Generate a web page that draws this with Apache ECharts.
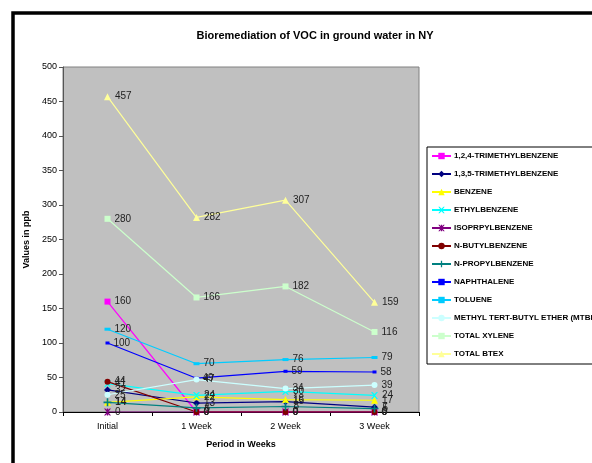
<!DOCTYPE html>
<html><head><meta charset="utf-8">
<script src="https://cdn.jsdelivr.net/npm/echarts@6/dist/echarts.min.js"></script>
<style>html,body{margin:0;padding:0;background:#fff}#c{width:592px;height:463px}</style>
</head><body><div id="c"></div>
<script>
const categories = ['Initial', '1 Week', '2 Week', '3 Week'];
const yTicks = [0, 50, 100, 150, 200, 250, 300, 350, 400, 450, 500];
const tmb124 = [160, 0, 0, 0];
const tmb135 = [32, 13, 15, 7];
const benzene = [14, 22, 18, 17];
const ethylbenzene = [41, 24, 30, 24];
const isopropylbenzene = [0, 0, 0, 0];
const nButylbenzene = [44, 0, 0, 0];
const nPropylbenzene = [14, 6, 8, 5];
const naphthalene = [100, 49, 59, 58];
const toluene = [120, 70, 76, 79];
const mtbe = [25, 47, 34, 39];
const totalXylene = [280, 166, 182, 116];
const totalBtex = [457, 282, 307, 159];

const defs = [
  ['1,2,4-TRIMETHYLBENZENE', tmb124, '#FF00FF', 'rect', 6],
  ['1,3,5-TRIMETHYLBENZENE', tmb135, '#000080', 'diamond', 7],
  ['BENZENE', benzene, '#FFFF00', 'triangle', 7],
  ['ETHYLBENZENE', ethylbenzene, '#00FFFF', 'path://M0,0L2,0L5,3L8,0L10,0L6,5L10,10L8,10L5,7L2,10L0,10L4,5Z', 7],
  ['ISOPRPYLBENZENE', isopropylbenzene, '#800080', 'path://M0,0L2,0L5,3L8,0L10,0L6,5L10,10L8,10L5,7L2,10L0,10L4,5Z M4,0L6,0L6,10L4,10Z', 7],
  ['N-BUTYLBENZENE', nButylbenzene, '#800000', 'circle', 6],
  ['N-PROPYLBENZENE', nPropylbenzene, '#008080', 'path://M4,0L6,0L6,4L10,4L10,6L6,6L6,10L4,10L4,6L0,6L0,4L4,4Z', 8],
  ['NAPHTHALENE', naphthalene, '#0000FF', 'rect', [4, 3]],
  ['TOLUENE', toluene, '#00CCFF', 'rect', [6, 3]],
  ['METHYL TERT-BUTYL ETHER (MTBE)', mtbe, '#CCFFFF', 'circle', 6],
  ['TOTAL XYLENE', totalXylene, '#CCFFCC', 'rect', 6],
  ['TOTAL BTEX', totalBtex, '#FFFF99', 'triangle', 7]
];

const series = defs.map(d => ({
  name: d[0], type: 'line', data: d[1],
  symbol: d[3], symbolSize: d[4], showAllSymbol: true,
  lineStyle: { color: d[2], width: 1.2 },
  itemStyle: { color: d[2] },
  label: { show: true, position: 'right', distance: 4, color: '#222', fontSize: 10, fontFamily: 'Liberation Sans' },
  emphasis: { disabled: true },
  animation: false
}));

const chart = echarts.init(document.getElementById('c'), null, { renderer: 'canvas' });
chart.setOption({
  animation: false,
  backgroundColor: '#fff',
  title: {
    text: 'Bioremediation of VOC in ground water in NY',
    left: 310, top: 25, textAlign: 'center',
    textStyle: { fontSize: 11, fontWeight: 'bold', color: '#000', fontFamily: 'Liberation Sans' }
  },
  graphic: [{
    type: 'rect', shape: { x: 13, y: 13, width: 800, height: 700 },
    style: { fill: 'none', stroke: '#000', lineWidth: 3.5 }, z: 100, silent: true
  }],
  legend: {
    orient: 'vertical', left: 427, top: 147,
    backgroundColor: '#fff', borderColor: '#000', borderWidth: 1,
    padding: [5, 40, 6, 4],
    itemWidth: 19, itemHeight: 8, itemGap: 10,
    textStyle: { fontSize: 8, fontWeight: 'bold', color: '#000', fontFamily: 'Liberation Sans', padding: [0, 0, 0, -2] },
    data: defs.map(d => d[0])
  },
  grid: { left: 63, top: 67, right: 173, bottom: 51, show: true, backgroundColor: '#C0C0C0', borderColor: '#808080', borderWidth: 1 },
  xAxis: {
    type: 'category', data: categories, boundaryGap: true,
    name: 'Period in Weeks', nameLocation: 'middle', nameGap: 28,
    nameTextStyle: { fontSize: 9, fontWeight: 'bold', color: '#000', fontFamily: 'Liberation Sans' },
    axisLine: { lineStyle: { color: '#000', width: 1 } },
    axisTick: { show: true, inside: false, length: 4, lineStyle: { color: '#000' } },
    axisLabel: { fontSize: 9, color: '#000', margin: 10, fontFamily: 'Liberation Sans' },
    splitLine: { show: false }
  },
  yAxis: {
    type: 'value', min: yTicks[0], max: yTicks[yTicks.length - 1], interval: 50,
    name: 'Values in ppb', nameLocation: 'middle', nameGap: 26, nameRotate: 90,
    nameTextStyle: { fontSize: 9, fontWeight: 'bold', color: '#000', fontFamily: 'Liberation Sans' },
    axisLine: { show: true, lineStyle: { color: '#555', width: 1 } },
    axisTick: { show: true, inside: false, length: 4, lineStyle: { color: '#555' } },
    axisLabel: { fontSize: 9, color: '#000', margin: 6, fontFamily: 'Liberation Sans' },
    splitLine: { show: false }
  },
  series: series
});
</script></body></html>
